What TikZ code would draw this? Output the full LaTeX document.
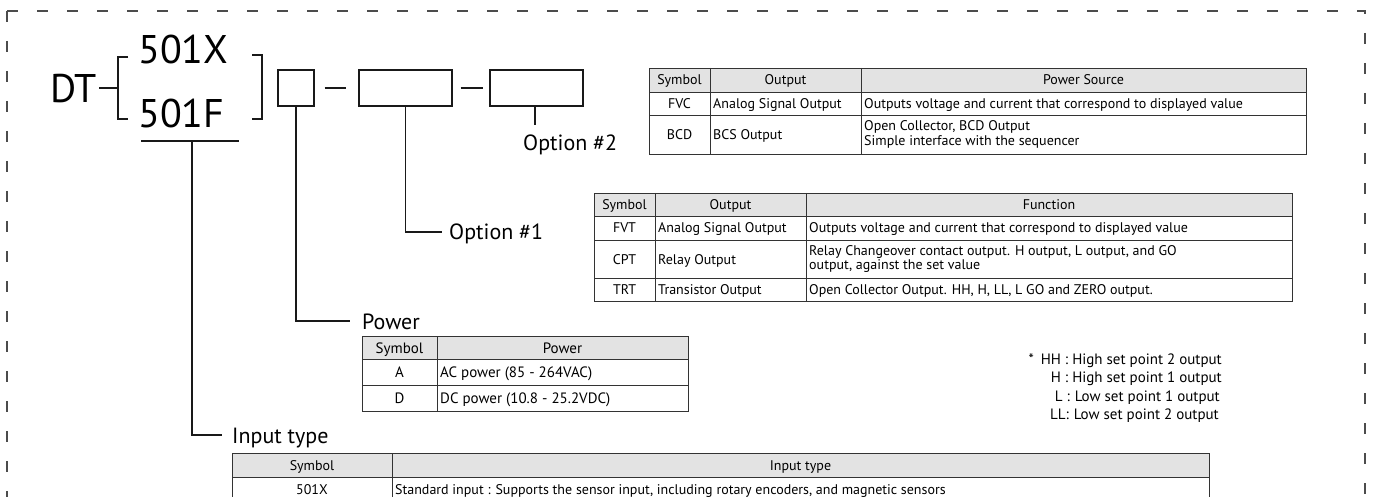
\documentclass[tikz,border=0pt]{standalone}
\usepackage{fontspec}
\setmainfont{PT Sans}
\begin{document}
\begin{tikzpicture}[x=1pt,y=-1pt,
  frame/.style={draw=black!70, line width=1.2pt, dash pattern=on 11pt off 19pt},
  conn/.style={draw=black!90, line width=1.1pt},
  boxs/.style={draw=black!90, line width=1.2pt, minimum height=36pt, inner sep=0pt},
  bigt/.style={font=\fontsize{40}{40}\selectfont, inner sep=0pt},
  lbl/.style={font=\fontsize{22}{22}\selectfont, inner sep=0pt},
  tbl/.style={draw=black!80, line width=0.9pt},
  hdr/.style={fill=black!11},
  tt/.style={font=\fontsize{14}{14.5}\selectfont, inner sep=0pt},
  tp/.style={font=\fontsize{15}{16}\selectfont, inner sep=0pt},
  note/.style={font=\fontsize{15}{16}\selectfont, inner sep=0pt, anchor=base east}
]
\useasboundingbox (0,0) rectangle (1381,497);
% dashed frame
\draw[frame] (7,11) -- (7,530);
\draw[frame] (7,11) -- (1365,11) -- (1365,530);

% model code
\node[bigt, anchor=base west] (dt) at (50,103) {DT};
\node[bigt, anchor=base west] (x501) at (138,64) {501X};
\node[bigt, anchor=base west] (f501) at (138,128) {501F};
\coordinate (brl) at (118,88);
\draw[conn] (99,88) -- (brl);
\draw[conn] (128,57) -- (118,57) -- (118,119) -- (128,119);
\draw[conn] (252,55) -- (262,55) -- (262,119) -- (252,119);
\draw[conn] (141,141) -- (239,141);
\coordinate (ul) at (192,141);

\node[boxs, minimum width=36pt] (b1) at (296,88) {};
\node[boxs, minimum width=93pt] (b2) at (405.5,88) {};
\node[boxs, minimum width=93pt] (b3) at (536.5,88) {};
\draw[conn] ([xshift=10pt]b1.east) -- ([xshift=-12pt]b2.west);
\draw[conn] ([xshift=8pt]b2.east) -- ([xshift=-6pt]b3.west);

% leaders
\node[lbl, anchor=base west] (opt2) at (523,151) {Option \#2};
\draw[conn] (535,106) -- (535,125);
\node[lbl, anchor=base west] (opt1) at (449,240) {Option \#1};
\draw[conn] (b2.south) -- (405.5,232) -- (442,232);
\node[lbl, anchor=base west] (pow) at (362,329) {Power};
\draw[conn] (b1.south) -- (296,321) -- (350,321);
\node[lbl, anchor=base west] (inp) at (232,443) {Input type};
\draw[conn] (ul) -- (192,435) -- (222,435);

% table option 2
\fill[hdr] (649,68) rectangle (1306,92);
\draw[tbl] (649,68) rectangle (1306,154);
\draw[tbl] (649,92) -- (1306,92) (649,115) -- (1306,115) (710,68) -- (710,154) (861,68) -- (861,154);
\node[tt, anchor=base] (a1) at (679.5,85) {Symbol};
\node[tt, anchor=base] (a2) at (785.5,85) {Output};
\node[tt, anchor=base] (a3) at (1083.5,85) {Power Source};
\node[tt, anchor=base] (a4) at (679.5,108.5) {FVC};
\node[tt, anchor=base west] (a5) at (713,108.5) {Analog Signal Output};
\node[tt, anchor=base west] (a6) at (864,108.5) {Outputs voltage and current that correspond to displayed value};
\node[tt, anchor=base] (a7) at (679.5,139.5) {BCD};
\node[tt, anchor=base west] (a8) at (713,139.5) {BCS Output};
\node[tt, anchor=west, align=left] (a9) at (864,134.5) {Open Collector, BCD Output\\Simple interface with the sequencer};

% table option 1
\fill[hdr] (594,193) rectangle (1292,216.5);
\draw[tbl] (594,193) rectangle (1292,301);
\draw[tbl] (594,216.5) -- (1292,216.5) (594,240) -- (1292,240) (594,278) -- (1292,278) (655,193) -- (655,301) (806,193) -- (806,301);
\node[tt, anchor=base] (c1) at (624.5,210) {Symbol};
\node[tt, anchor=base] (c2) at (730.5,210) {Output};
\node[tt, anchor=base] (c3) at (1049,210) {Function};
\node[tt, anchor=base] (c4) at (624.5,233) {FVT};
\node[tt, anchor=base west] (c5) at (658,233) {Analog Signal Output};
\node[tt, anchor=base west] (c6) at (809,233) {Outputs voltage and current that correspond to displayed value};
\node[tt, anchor=base] (c7) at (624.5,264) {CPT};
\node[tt, anchor=base west] (c8) at (658,264) {Relay Output};
\node[tt, anchor=west, align=left] (c9) at (809,259) {Relay Changeover contact output. H output, L output, and GO\\output, against the set value};
\node[tt, anchor=base] (c10) at (624.5,294.5) {TRT};
\node[tt, anchor=base west] (c11) at (658,294.5) {Transistor Output};
\node[tt, anchor=base west] (c12) at (809,294.5) {Open Collector Output. HH, H, LL, L GO and ZERO output.};

% power table
\fill[hdr] (362,336) rectangle (688,359);
\draw[tbl] (362,336) rectangle (688,411);
\draw[tbl] (362,359) -- (688,359) (362,385) -- (688,385) (437,336) -- (437,411);
\node[tp, anchor=base] (p1) at (399.5,353) {Symbol};
\node[tp, anchor=base] (p2) at (562.5,353) {Power};
\node[tp, anchor=base] (p3) at (399.5,377) {A};
\node[tp, anchor=base west] (p4) at (440,377) {AC power (85 - 264VAC)};
\node[tp, anchor=base] (p5) at (399.5,403) {D};
\node[tp, anchor=base west] (p6) at (440,403) {DC power (10.8 - 25.2VDC)};

% notes
\node[note] (n1) at (1222,364) {*\hspace{7pt}HH : High set point 2 output};
\node[note] (n2) at (1222,382.5) {H : High set point 1 output};
\node[note] (n3) at (1220,401) {L :\hspace{5pt}Low set point 1 output};
\node[note] (n4) at (1219,419.5) {LL:\hspace{5pt}Low set point 2 output};

% input type table
\fill[hdr] (232,453) rectangle (1209,477);
\draw[tbl] (232,453) rectangle (1209,520);
\draw[tbl] (232,477) -- (1209,477) (232,501) -- (1209,501) (392,453) -- (392,520);
\node[tt, anchor=base] (i1) at (312,470) {Symbol};
\node[tt, anchor=base] (i2) at (800.5,470) {Input type};
\node[tt, anchor=base] (i3) at (312,494) {501X};
\node[tt, anchor=base west] (i4) at (395,494) {Standard input : Supports the sensor input, including rotary encoders, and magnetic sensors};
\end{tikzpicture}
\end{document}
